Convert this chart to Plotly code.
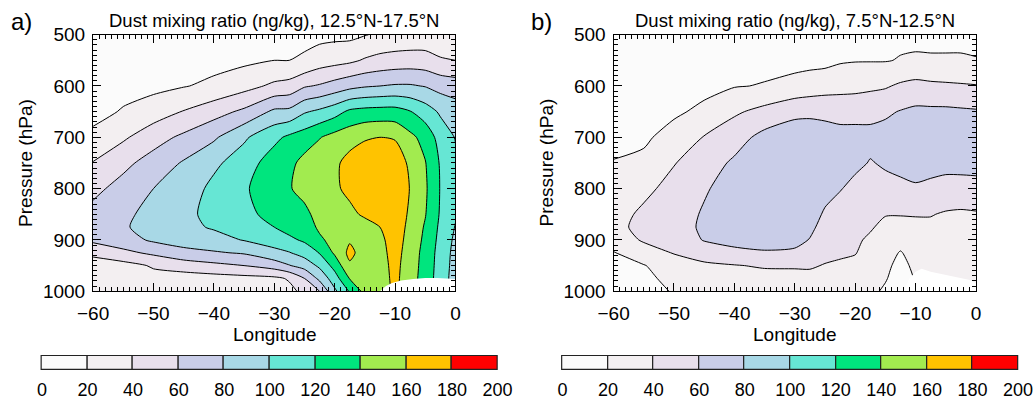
import plotly.graph_objects as go

# Contour levels and the colour of each 20 ng/kg band
LEVELS = list(range(0, 201, 20))
BAND_COLORS = ["#fbfbfb", "#f3eff1", "#e8dfec", "#c9cde8", "#a8d8e6",
               "#66e6d4", "#00e57e", "#a2eb4f", "#ffc300", "#ff0000"]

# Grid: longitude (deg) and pressure (hPa)
lon = [-60, -55, -50, -45, -40, -35, -30, -27.5, -25, -22.5, -20,
       -17.5, -15, -12.5, -10, -7.5, -5, -2.5, 0]
pres = [500, 550, 600, 650, 700, 750, 800, 850, 875, 900, 925, 950, 975, 1000]

# Dust mixing ratio (ng/kg), 12.5N-17.5N: one vertical profile per longitude
dust_a_profiles = [
    [6, 10, 13, 16, 23, 41, 55, 66, 68, 65, 42, 36, 34, 32],         # -60
    [8, 12, 16, 21, 37, 55, 67, 76, 78, 72, 55, 33, 32, 31],         # -55
    [10, 13, 15, 30, 52, 68, 80, 86, 87, 83, 64, 42, 34, 32],        # -50
    [12, 15, 19, 41, 64, 82, 89, 94, 95, 90, 73, 50, 30, 30],        # -45
    [13, 14, 24, 52, 77, 96, 105, 107, 102, 93, 78, 55, 32, 31],     # -40
    [15, 16, 33, 64, 97, 110, 117, 115, 108, 101, 82, 60, 34, 32],   # -35
    [17, 20, 44, 84, 115, 130, 134, 126, 120, 108, 95, 69, 36, 32],  # -30
    [17, 20, 47, 85, 124, 135, 138, 133, 127, 116, 99, 79, 42, 35],  # -27.5
    [16, 22, 58, 98, 130, 146, 149, 133, 128, 123, 108, 88, 60, 45], # -25
    [14, 30, 62, 104, 139, 152, 155, 150, 144, 136, 121, 104, 85, 60],  # -22.5
    [15, 33, 68, 112, 147, 156, 158, 156, 153, 148, 143, 127, 111, 96], # -20
    [15, 36, 74, 124, 152, 167, 163, 157, 154, 158, 165, 157, 141, 122],  # -17.5
    [19, 42, 78, 127, 158, 172, 172, 162, 155, 153, 151, 150, 148, 146],  # -15
    [23, 46, 80, 128, 160, 176, 178, 170, 160, 155, 153, 152, 151, 150],  # -12.5
    [25, 48, 82, 128, 158, 175, 178, 175, 172, 170, 168, 166, 165, 164],  # -10
    [26, 49, 82, 121, 145, 155, 159, 156, 154, 152, 150, 149, 148, 147],  # -7.5
    [27, 48, 79, 110, 133, 141, 143, 141, 138, 136, 134, 133, 132, 131],  # -5
    [26, 42, 73, 97, 112, 118, 119, 118, 116, 114, 112, 111, 110, 109],   # -2.5
    [24, 40, 70, 90, 99, 104, 104, 102, 99, 96, 94, 93, 92, 92],          # 0
]

# Dust mixing ratio (ng/kg), 7.5N-12.5N
dust_b_profiles = [
    [3, 5, 7, 10, 14, 21, 26, 32, 34, 30, 19, 17, 15, 14],     # -60
    [5, 7, 10, 14, 17, 24, 35, 44, 46, 42, 32, 19, 16, 15],    # -55
    [7, 10, 13, 17, 27, 39, 47, 51, 52, 49, 41, 31, 25, 21],   # -50
    [9, 12, 15, 24, 41, 51, 58, 62, 63, 61, 50, 36, 29, 26],   # -45
    [10, 14, 19, 37, 52, 63, 68, 70, 69, 65, 56, 39, 32, 29],  # -40
    [11, 15, 21, 46, 66, 71, 74, 74, 72, 68, 58, 42, 33, 30],  # -35
    [12, 15, 25, 56, 69, 74, 76, 75, 72, 67, 56, 42, 34, 31],  # -30
    [12, 15, 28, 57, 68, 72, 73, 70, 65, 59, 50, 42, 35, 32],  # -27.5
    [13, 15, 31, 56, 67, 70, 68, 57, 52, 48, 45, 39, 34, 31],  # -25
    [14, 18, 33, 54, 66, 67, 61, 52, 48, 45, 42, 38, 33, 30],  # -22.5
    [15, 19, 34, 54, 66, 64, 55, 49, 45, 43, 41, 35, 31, 28],  # -20
    [17, 19, 36, 55, 65, 59, 53, 46, 42, 37, 32, 28, 25, 23],  # -17.5
    [18, 19, 38, 57, 67, 62, 55, 41, 35, 30, 26, 23, 21, 18],  # -15
    [16, 21, 43, 61, 70, 66, 55, 41, 33, 26, 19, 16, 14, 12],  # -12.5
    [16, 22, 46, 64, 72, 70, 57, 41, 36, 30, 26, 23, 21, 21],  # -10
    [15, 22, 44, 64, 72, 66, 56, 41, 36, 32, 29, 27, 25, 24],  # -7.5
    [15, 22, 43, 64, 72, 65, 54, 38, 35, 32, 29, 27, 25, 24],  # -5
    [15, 22, 42, 63, 71, 66, 53, 37, 34, 31, 29, 27, 25, 24],  # -2.5
    [14, 21, 41, 62, 70, 66, 54, 38, 34, 31, 29, 27, 25, 24],  # 0
]

# Surface pressure (hPa) where the ground rises above the 1000 hPa level
terrain_a_lon = [-12.5, -11.5, -10.5, -9, -7, -5, -3, -1, 0]
terrain_a_psfc = [1000, 990, 984, 979, 976, 974, 974, 975, 976]
terrain_b_lon = [-12.0, -11, -10, -9, -7.5, -5, -2.5, -1, 0]
terrain_b_psfc = [1000, 975, 962, 956, 962, 968, 974, 978, 984]

titles = ["Dust mixing ratio (ng/kg), 12.5°N-17.5°N",
          "Dust mixing ratio (ng/kg), 7.5°N-12.5°N"]
panel_tags = ["a)", "b)"]

FONT = "Liberation Sans, Arial, Helvetica, sans-serif"
W, H = 1034, 400
# drawing frame of the page, in pixels (left, top, width, height)
FRAME_L, FRAME_T, FRAME_W, FRAME_H = 15, 10, 1004, 380


def fx(px):
    return (px - FRAME_L) / FRAME_W


def fy(py):
    return 1 - (py - FRAME_T) / FRAME_H


def to_rows(profiles):
    return [list(r) for r in zip(*profiles)]


# Stepped colour scale: one flat colour per contour band
zmin, zmax = LEVELS[0], LEVELS[-1]
colorscale = []
for i, c in enumerate(BAND_COLORS):
    colorscale.append([(LEVELS[i] - zmin) / (zmax - zmin), c])
    colorscale.append([(LEVELS[i + 1] - zmin) / (zmax - zmin), c])

fig = go.Figure()

panels = [
    dict(z=to_rows(dust_a_profiles), tl=terrain_a_lon, tp=terrain_a_psfc),
    dict(z=to_rows(dust_b_profiles), tl=terrain_b_lon, tp=terrain_b_psfc),
]

# pixel boxes of the two plot areas and colour bars
plot_x = [(92, 454), (612, 974)]
plot_y = (35, 295)
cbar_x = [(41, 496), (561, 1016)]
cbar_y = (360.5, 375)
# small padding (in bar units) so the bar outlines are not clipped
PAD_X, PAD_Y = 1.0, 0.06

for k, pnl in enumerate(panels):
    xa = "x" if k == 0 else "x2"
    ya = "y" if k == 0 else "y2"
    fig.add_trace(go.Contour(
        x=lon, y=pres, z=pnl["z"],
        xaxis=xa, yaxis=ya,
        zmin=zmin, zmax=zmax,
        colorscale=colorscale,
        contours=dict(start=LEVELS[0], end=LEVELS[-1], size=LEVELS[1] - LEVELS[0],
                      coloring="fill", showlines=True),
        line=dict(color="black", width=1, smoothing=0.7),
        showscale=False, hoverinfo="skip",
    ))
    # ground below the surface pressure, blanked out in white
    gx = pnl["tl"] + [pnl["tl"][-1], pnl["tl"][0]]
    gy = pnl["tp"] + [max(pres), max(pres)]
    fig.add_trace(go.Scatter(
        x=gx, y=gy, xaxis=xa, yaxis=ya, mode="lines",
        fill="toself", fillcolor="white", line=dict(width=0, color="white"),
        showlegend=False, hoverinfo="skip",
    ))

# colour bars drawn as adjacent bars, one per band
mids = [(LEVELS[i] + LEVELS[i + 1]) / 2 for i in range(len(BAND_COLORS))]
for k in range(2):
    fig.add_trace(go.Bar(
        x=mids, y=[1] * len(mids), width=LEVELS[1] - LEVELS[0],
        xaxis="x3" if k == 0 else "x4", yaxis="y3" if k == 0 else "y4",
        marker=dict(color=BAND_COLORS, line=dict(color="#222222", width=1.2)),
        showlegend=False, hoverinfo="skip",
    ))


def main_x(k):
    return dict(
        domain=[fx(plot_x[k][0]), fx(plot_x[k][1])], range=[-60, 0],
        anchor="y" if k == 0 else "y2",
        tickvals=list(range(-60, 1, 10)), ticks="inside", ticklen=8, tickwidth=1,
        tickcolor="black", minor=dict(dtick=1, ticks="inside", ticklen=4,
                                      tickcolor="black", tickwidth=1),
        showline=True, linecolor="black", linewidth=1.2, mirror="ticks",
        showgrid=False, zeroline=False,
        tickfont=dict(size=19, color="black", family=FONT), ticklabelstandoff=5,
    )


def main_y(k):
    return dict(
        domain=[fy(plot_y[1]), fy(plot_y[0])], range=[1000, 500],
        anchor="x" if k == 0 else "x2",
        tickvals=list(range(500, 1001, 100)), ticks="inside", ticklen=8, tickwidth=1,
        tickcolor="black", minor=dict(dtick=10, ticks="inside", ticklen=4,
                                      tickcolor="black", tickwidth=1),
        showline=True, linecolor="black", linewidth=1.2, mirror="ticks",
        showgrid=False, zeroline=False,
        tickfont=dict(size=19, color="black", family=FONT), ticklabelstandoff=3,
    )


def cbar_x_axis(k):
    x0, x1 = cbar_x[k]
    upx = (x1 - x0) / (LEVELS[-1] - LEVELS[0])
    return dict(
        domain=[fx(x0 - PAD_X * upx), fx(x1 + PAD_X * upx)],
        range=[LEVELS[0] - PAD_X, LEVELS[-1] + PAD_X],
        anchor="y3" if k == 0 else "y4",
        tickvals=LEVELS, ticks="", showline=False, showgrid=False, zeroline=False,
        tickfont=dict(size=18, color="black", family=FONT), ticklabelstandoff=6,
        fixedrange=True,
    )


def cbar_y_axis(k):
    top, bottom = cbar_y
    upy = bottom - top
    return dict(domain=[fy(bottom + PAD_Y * upy), fy(top - PAD_Y * upy)],
                range=[-PAD_Y, 1 + PAD_Y], visible=False,
                anchor="x3" if k == 0 else "x4", fixedrange=True)


annotations = []
for k in range(2):
    x0, x1 = plot_x[k]
    cx = fx((x0 + x1) / 2)
    annotations += [
        dict(text=titles[k], x=cx, y=fy(21), xref="paper", yref="paper",
             xanchor="center", yanchor="middle", showarrow=False,
             font=dict(size=18.5, color="black", family=FONT)),
        dict(text=panel_tags[k], x=fx(x0 - 72), y=fy(22), xref="paper",
             yref="paper", xanchor="center", yanchor="middle", showarrow=False,
             font=dict(size=24, color="black", family=FONT)),
        dict(text="Pressure (hPa)", x=fx(x0 - 67), y=fy(165),
             xref="paper", yref="paper", xanchor="center", yanchor="middle",
             textangle=-90, showarrow=False,
             font=dict(size=19, color="black", family=FONT)),
        dict(text="Longitude", x=cx, y=fy(339), xref="paper", yref="paper",
             xanchor="center", yanchor="middle", showarrow=False, borderpad=0,
             font=dict(size=19, color="black", family=FONT)),
    ]

fig.update_layout(
    width=W, height=H, margin=dict(l=0, r=0, t=0, b=0),
    paper_bgcolor="white", plot_bgcolor="white",
    font=dict(family=FONT, color="black"),
    showlegend=False, hovermode=False, bargap=0,
    xaxis=main_x(0), yaxis=main_y(0),
    xaxis2=main_x(1), yaxis2=main_y(1),
    xaxis3=cbar_x_axis(0), yaxis3=cbar_y_axis(0),
    xaxis4=cbar_x_axis(1), yaxis4=cbar_y_axis(1),
    annotations=annotations,
)

fig.write_html("out.html")
